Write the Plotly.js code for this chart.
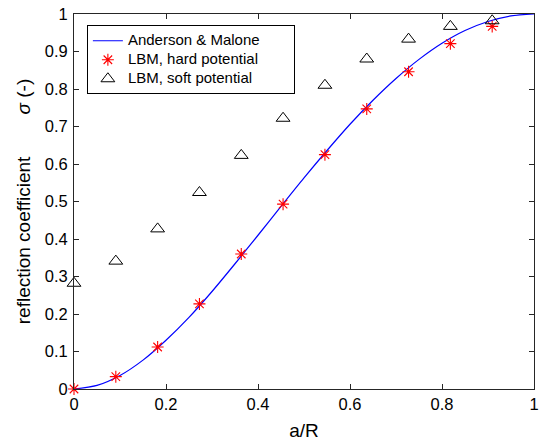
<!DOCTYPE html>
<html>
<head>
<meta charset="utf-8">
<script src="https://cdn.plot.ly/plotly-3.0.1.min.js"></script>
<style>html,body{margin:0;padding:0;background:#fff;} #chart{width:540px;height:444px;}</style>
</head>
<body>
<div id="chart"></div>
<script>
// Anderson & Malone curve
const curveX = [0, 0.05, 0.1, 0.15, 0.2, 0.25, 0.3, 0.35, 0.4, 0.45, 0.5, 0.55, 0.6, 0.65, 0.7, 0.75, 0.8, 0.85, 0.9, 0.95, 1];
const curveY = [0, 0.0095, 0.036, 0.077, 0.130, 0.191, 0.260, 0.334, 0.410, 0.487, 0.563, 0.636, 0.706, 0.770, 0.828, 0.879, 0.922, 0.956, 0.980, 0.995, 1];
// LBM points
const lbmX = [0, 0.0909, 0.1818, 0.2727, 0.3636, 0.4545, 0.5455, 0.6364, 0.7273, 0.8182, 0.9091];
const hardY = [0, 0.033, 0.112, 0.227, 0.360, 0.493, 0.625, 0.747, 0.846, 0.921, 0.967];
const softY = [0.282, 0.341, 0.427, 0.524, 0.623, 0.722, 0.810, 0.880, 0.933, 0.967, 0.982];
// ticks
const xTicks = [0, 0.2, 0.4, 0.6, 0.8, 1];
const xTickText = ["0", "0.2", "0.4", "0.6", "0.8", "1"];
const yTicks = [0, 0.1, 0.2, 0.3, 0.4, 0.5, 0.6, 0.7, 0.8, 0.9, 1];
const yTickText = ["0", "0.1", "0.2", "0.3", "0.4", "0.5", "0.6", "0.7", "0.8", "0.9", "1"];
const seriesNames = ["Anderson & Malone", "LBM, hard potential", "LBM, soft potential"];

const FONT = "Liberation Sans, Arial, Helvetica, sans-serif";
const NB = "\u00A0";
const legName = (s, pad) => '<span style="font-size:15px">' + s + NB.repeat(pad) + '</span>';

const traces = [
  {x: curveX, y: curveY, type: "scatter", mode: "lines", name: legName(seriesNames[0], 7),
   line: {color: "#0000ff", width: 1.2, shape: "spline", smoothing: 0.8}},
  {x: lbmX, y: hardY, type: "scatter", mode: "markers", name: legName(seriesNames[1], 0), cliponaxis: false,
   marker: {symbol: "asterisk-open", size: 10, color: "#ff0000", line: {color: "#ff0000", width: 1.1}}},
  {x: lbmX, y: softY, type: "scatter", mode: "markers", name: legName(seriesNames[2], 0), cliponaxis: false,
   marker: {symbol: "triangle-up-open", size: 12, color: "#000000", line: {color: "#000000", width: 1}}}
];

const axisCommon = {
  showgrid: false, zeroline: false, showline: true, mirror: "ticks",
  linecolor: "#262626", linewidth: 1, ticks: "inside", ticklen: 5, tickwidth: 1, tickcolor: "#262626",
  tickfont: {family: FONT, size: 16.5, color: "#000"}
};

const layout = {
  width: 540, height: 444,
  margin: {l: 74, r: 6, t: 14, b: 55, pad: 0},
  paper_bgcolor: "#fff", plot_bgcolor: "#fff",
  showlegend: true,
  font: {family: FONT, color: "#000"},
  xaxis: Object.assign({}, axisCommon, {
    range: [0, 1], tickvals: xTicks, ticktext: xTickText,
    title: {text: "a/R", font: {family: FONT, size: 19, color: "#000"}, standoff: 11}
  }),
  yaxis: Object.assign({}, axisCommon, {
    range: [0, 1], tickvals: yTicks, ticktext: yTickText, ticklabelstandoff: 2,
    title: {text: "reflection coefficient" + NB.repeat(8) + "<i>σ</i> (-)", font: {family: FONT, size: 19, color: "#000"}, standoff: 9}
  }),
  legend: {
    x: 0.028, y: 0.97, xanchor: "left", yanchor: "top",
    bgcolor: "#fff", bordercolor: "#000", borderwidth: 1,
    font: {family: FONT, size: 12, color: "#000"},
    tracegroupgap: 0, itemwidth: 30
  }
};

Plotly.newPlot("chart", traces, layout, {displayModeBar: false, staticPlot: true});
</script>
</body>
</html>
